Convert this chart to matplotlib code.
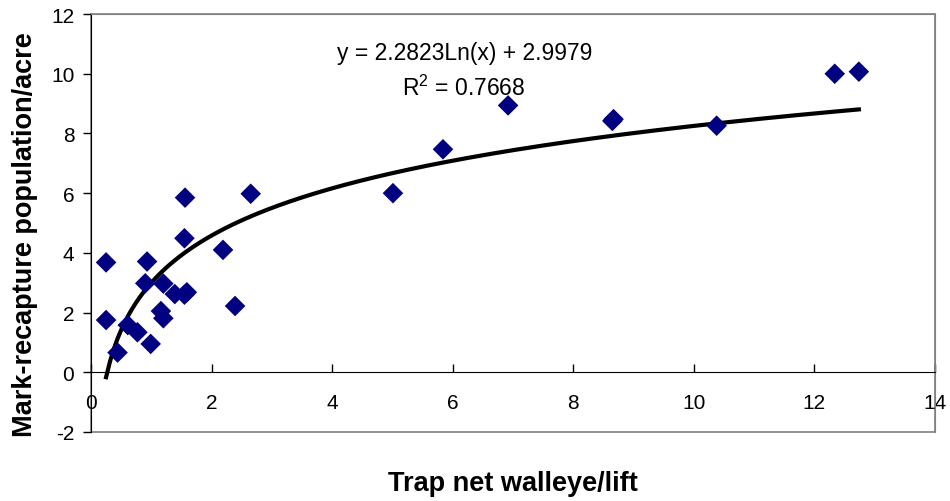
import numpy as np
import matplotlib
matplotlib.use("Agg")
import matplotlib.pyplot as plt
from matplotlib.patches import Rectangle

plt.rcParams['font.family'] = ['Liberation Sans', 'DejaVu Sans']
plt.rcParams['axes.unicode_minus'] = False
plt.rcParams['mathtext.fontset'] = 'custom'
plt.rcParams['mathtext.rm'] = 'Liberation Sans'

# Trap net catch (walleye/lift) vs mark-recapture estimate (fish/acre)
trap_net = [0.25, 0.25, 0.44, 0.61, 0.77, 0.90, 0.93, 0.99, 1.16, 1.20,
            1.20, 1.39, 1.55, 1.59, 1.55, 1.56, 2.19, 2.39, 2.65, 5.01,
            5.84, 6.92, 8.65, 8.67, 10.38, 12.34, 12.74]
pop_acre = [3.68, 1.75, 0.66, 1.58, 1.34, 2.98, 3.71, 0.95, 2.05, 1.81,
            2.97, 2.62, 2.60, 2.68, 4.49, 5.85, 4.10, 2.22, 5.98, 6.00,
            7.47, 8.94, 8.42, 8.48, 8.26, 10.00, 10.07]

# logarithmic trendline shown on the chart
coef_a = 2.2823
coef_b = 2.9979
r_squared = 0.7668

x_ticks = [0, 2, 4, 6, 8, 10, 12, 14]
y_ticks = [-2, 0, 2, 4, 6, 8, 10, 12]

fig = plt.figure(figsize=(9.5, 5.02), dpi=100)
ax = fig.add_axes([0.0958, 0.1375, 0.8882, 0.8325])

# trendline over the range of the data
xt = np.linspace(min(trap_net), max(trap_net), 200)
ax.plot(xt, coef_a * np.log(xt) + coef_b, color='black', lw=3, zorder=2)

ax.scatter(trap_net, pop_acre, marker='D', s=110, color='#000080',
           edgecolors='none', zorder=3)

ax.set_xlim(0, 14)
ax.set_ylim(-2, 12)
ax.set_xticks(x_ticks)
ax.set_yticks(y_ticks)

# x axis crosses at y = 0, Excel style
ax.spines['bottom'].set_position(('data', 0))
ax.spines['bottom'].set_color('black')
ax.spines['left'].set_color('black')
for s in ['top', 'right']:
    ax.spines[s].set_color('#808080')
ax.add_patch(Rectangle((0, 0), 1, 1, transform=ax.transAxes, fill=False,
                       edgecolor='#808080', lw=1.2, clip_on=False, zorder=0))

ax.tick_params(axis='x', direction='in', length=6, width=1, pad=15,
               labelsize=15)
ax.tick_params(axis='y', direction='out', length=6, width=1, pad=6,
               labelsize=15)

ax.set_xlabel('Trap net walleye/lift', fontsize=19.5, fontweight='bold')
ax.xaxis.set_label_coords(0.5, -0.09)
ax.set_ylabel('Mark-recapture population/acre', fontsize=19.5,
              fontweight='bold')
ax.yaxis.set_label_coords(-0.063, 0.475)

ax.text(0.443, 0.907, 'y = %.4fLn(x) + %.4f' % (coef_a, coef_b),
        transform=ax.transAxes, ha='center', va='center', fontsize=16.5)
ax.text(0.442, 0.825, 'R$^{2}$ = %.4f' % r_squared,
        transform=ax.transAxes, ha='center', va='center', fontsize=16.5)

fig.savefig('out.png', dpi=100)
